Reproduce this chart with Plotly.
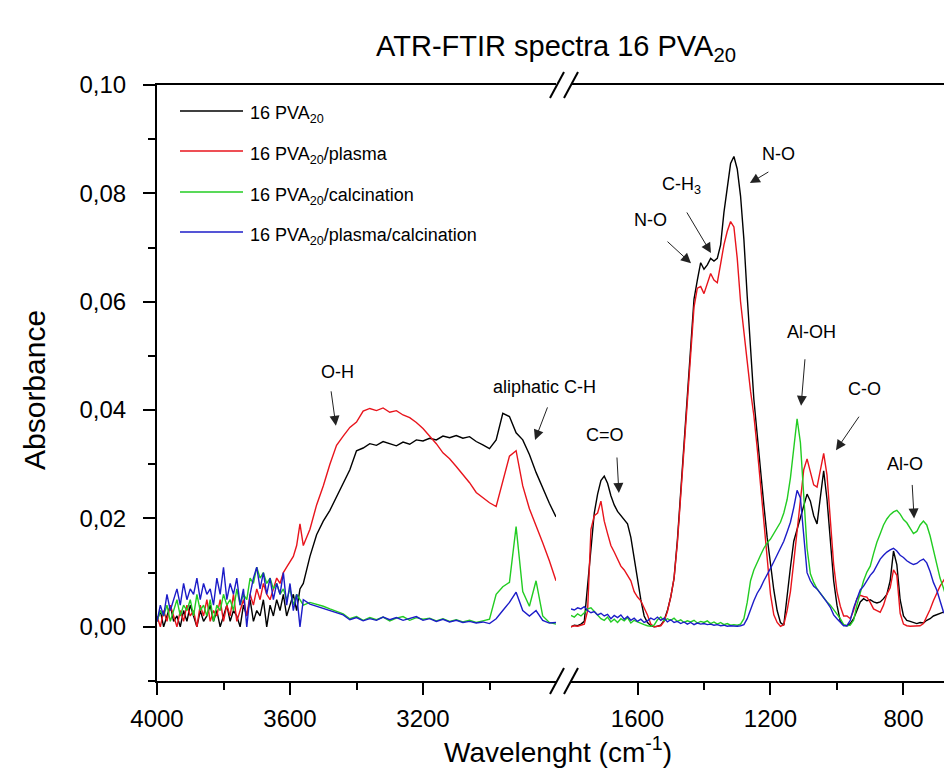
import plotly.graph_objects as go

# ---------------- data ----------------
wn_left = [
    4000, 3990, 3980, 3970, 3960, 3950, 3940, 3930, 3920, 3910,
    3900, 3890, 3880, 3870, 3860, 3850, 3840, 3830, 3820, 3810,
    3800, 3790, 3780, 3770, 3760, 3750, 3740, 3730, 3720, 3710,
    3700, 3690, 3680, 3670, 3660, 3650, 3640, 3630, 3620, 3610,
    3600, 3590, 3580, 3570, 3560,
    3540, 3520, 3500, 3480, 3460, 3440, 3420, 3400, 3380, 3360,
    3340, 3320, 3300, 3280, 3260, 3240, 3220, 3200, 3180, 3160,
    3140, 3120, 3100, 3080, 3060, 3040, 3020, 3000, 2980, 2960,
    2940, 2920, 2900, 2880, 2860, 2840, 2820, 2800]

wn_right = [
    1800, 1790, 1780, 1770, 1760, 1750, 1740, 1730, 1720, 1710,
    1700, 1690, 1680, 1670, 1660, 1650, 1640, 1630, 1620, 1610,
    1600, 1590, 1580, 1570, 1560, 1550, 1540, 1530, 1520, 1510,
    1500, 1490, 1480, 1470, 1460, 1450, 1440, 1430, 1420, 1410,
    1400, 1390, 1380, 1370, 1360, 1350, 1340, 1330, 1320, 1310,
    1300, 1290, 1280, 1270, 1260, 1250, 1240, 1230, 1220, 1210,
    1200, 1190, 1180, 1170, 1160, 1150, 1140, 1130, 1120, 1110,
    1100, 1090, 1080, 1070, 1060, 1050, 1040, 1030, 1020, 1010,
    1000, 990, 980, 970, 960, 950, 940, 930, 920, 910,
    900, 890, 880, 870, 860, 850, 840, 830, 820, 810,
    800, 790, 780, 770, 760, 750, 740, 730, 720, 710,
    700, 690, 680, 670, 660, 650, 640]

black_left = [
    0.001, 0.003, 0.000, 0.002, 0.004, 0.001, 0.002, 0.000, 0.003, 0.001,
    0.004, 0.002, 0.000, 0.003, 0.001, 0.002, 0.004, 0.001, 0.003, 0.000,
    0.002, 0.004, 0.001, 0.003, 0.002, 0.000, 0.004, 0.002, 0.005, 0.001,
    0.003, 0.002, 0.005, 0.000, 0.004, 0.002, 0.005, 0.003, 0.006, 0.002,
    0.004, 0.006, 0.003, 0.007, 0.008,
    0.013, 0.017, 0.0195, 0.0215, 0.024, 0.0265, 0.029, 0.0325, 0.033, 0.0338,
    0.0335, 0.0342, 0.0338, 0.0334, 0.0341, 0.0337, 0.0345, 0.0343, 0.0348, 0.0345,
    0.0352, 0.0349, 0.0353, 0.0348, 0.0351, 0.0342, 0.0336, 0.0329, 0.0345, 0.0394,
    0.0388, 0.0358, 0.0345, 0.0318, 0.0285, 0.0255, 0.0228, 0.0203]

red_left = [
    0.002, 0.000, 0.003, 0.001, 0.004, 0.002, 0.000, 0.003, 0.001, 0.004,
    0.002, 0.003, 0.000, 0.004, 0.002, 0.005, 0.001, 0.003, 0.002, 0.005,
    0.001, 0.004, 0.002, 0.006, 0.001, 0.003, 0.005, 0.002, 0.006, 0.004,
    0.007, 0.005, 0.008, 0.006, 0.005, 0.007, 0.009, 0.008, 0.010, 0.011,
    0.012, 0.013, 0.015, 0.019, 0.015,
    0.018, 0.0225, 0.026, 0.030, 0.0335, 0.0352, 0.0368, 0.0378, 0.0398, 0.0403,
    0.0399, 0.0404, 0.0396, 0.0399, 0.0391, 0.0386, 0.0377, 0.0366, 0.0352, 0.0338,
    0.0321, 0.031, 0.0296, 0.0281, 0.0266, 0.0248, 0.0238, 0.0229, 0.0222, 0.027,
    0.0315, 0.0325, 0.026, 0.0218, 0.0188, 0.0155, 0.0122, 0.0085]

green_left = [
    0.001, 0.003, 0.002, 0.004, 0.001, 0.003, 0.005, 0.002, 0.004, 0.003,
    0.005, 0.002, 0.006, 0.003, 0.004, 0.002, 0.005, 0.001, 0.004, 0.003,
    0.006, 0.004, 0.005, 0.003, 0.007, 0.004, 0.006, 0.005, 0.009, 0.008,
    0.011, 0.009, 0.010, 0.008, 0.009, 0.007, 0.008, 0.006, 0.007, 0.005,
    0.007, 0.004, 0.006, 0.005, 0.004,
    0.0045, 0.0042, 0.0038, 0.0033, 0.0028, 0.0024, 0.0015, 0.0019, 0.0012, 0.0017,
    0.0013, 0.0018, 0.0011, 0.0016, 0.0019, 0.0012, 0.0017, 0.0014, 0.0016, 0.0011,
    0.0015, 0.0010, 0.0013, 0.0009, 0.0012, 0.0008, 0.0011, 0.0014, 0.0060, 0.0074,
    0.0082, 0.0185, 0.0065, 0.0038, 0.0085, 0.0020, 0.0008, 0.0005]

blue_left = [
    0.001, 0.004, 0.002, 0.006, 0.003, 0.005, 0.007, 0.004, 0.008, 0.005,
    0.007, 0.006, 0.009, 0.005, 0.008, 0.006, 0.007, 0.004, 0.009, 0.006,
    0.011, 0.005, 0.008, 0.006, 0.009, 0.004, 0.007, 0.000, 0.006, 0.009,
    0.011, 0.007, 0.010, 0.006, 0.009, 0.005, 0.008, 0.006, 0.010, 0.004,
    0.008, 0.003, 0.006, 0.000, 0.005,
    0.0042, 0.0038, 0.0034, 0.0030, 0.0025, 0.0022, 0.0013, 0.0017, 0.0011, 0.0015,
    0.0012, 0.0018, 0.0013, 0.0017, 0.0012, 0.0015, 0.0019, 0.0012, 0.0015, 0.0010,
    0.0014, 0.0009, 0.0012, 0.0008, 0.0010, 0.0007, 0.0009, 0.0006, 0.0015, 0.0030,
    0.0045, 0.0064, 0.0030, 0.0020, 0.0030, 0.0012, 0.0007, 0.0008]

black_right = [
    0.000, 0.0003, 0.0002, 0.0005, 0.001, 0.008, 0.014, 0.021, 0.0245, 0.027,
    0.0278, 0.0265, 0.0242, 0.0225, 0.0213, 0.0205, 0.0198, 0.019, 0.0165, 0.0125,
    0.0088, 0.005, 0.002, 0.0008, 0.0002, 0.000, 0.0001, 0.0003, 0.0012, 0.003,
    0.0055, 0.009, 0.016, 0.025, 0.034, 0.0435, 0.052, 0.0605, 0.064, 0.0672,
    0.066, 0.0668, 0.068, 0.0675, 0.068, 0.0705, 0.0765, 0.081, 0.0855, 0.0868,
    0.0845, 0.0795, 0.0715, 0.061, 0.0505, 0.042, 0.0355, 0.0285, 0.0225, 0.0165,
    0.0115, 0.0068, 0.003, 0.0008, 0.0003, 0.006, 0.011, 0.0158, 0.018, 0.0198,
    0.0225, 0.0245, 0.0232, 0.0205, 0.019, 0.0245, 0.0288, 0.0235, 0.016, 0.0085,
    0.004, 0.001, 0.0003, 0.0002, 0.0006, 0.0015, 0.003, 0.0046, 0.0052, 0.0048,
    0.005, 0.0046, 0.0044, 0.0046, 0.0052, 0.006, 0.0085, 0.014, 0.0115, 0.005,
    0.002, 0.0012, 0.001, 0.0008, 0.0006, 0.0008, 0.0007, 0.0012, 0.0015, 0.002,
    0.0022, 0.0025, 0.0027, 0.0026, 0.0022, 0.0018, 0.0018]

red_right = [
    0.000, 0.0002, 0.0001, 0.0003, 0.0005, 0.003, 0.018, 0.0205, 0.021, 0.0232,
    0.0195, 0.0172, 0.015, 0.0138, 0.0126, 0.0112, 0.0105, 0.0095, 0.0085, 0.0065,
    0.0055, 0.0048, 0.0035, 0.0022, 0.0005, 0.0000, 0.0001, 0.0002, 0.001, 0.0028,
    0.0055, 0.009, 0.0155, 0.024, 0.033, 0.042, 0.051, 0.059, 0.0625, 0.0628,
    0.0615, 0.0635, 0.0652, 0.064, 0.0635, 0.067, 0.0705, 0.073, 0.0748, 0.0738,
    0.068, 0.060, 0.055, 0.049, 0.0435, 0.039, 0.033, 0.026, 0.0185, 0.012,
    0.006, 0.0022, 0.0008, 0.0001, 0.0004, 0.003, 0.0065, 0.012, 0.018, 0.024,
    0.029, 0.031, 0.0285, 0.0262, 0.0258, 0.029, 0.032, 0.028, 0.019, 0.0115,
    0.0065, 0.0038, 0.002, 0.002, 0.0015, 0.003, 0.0052, 0.0058, 0.0056, 0.0055,
    0.0045, 0.0033, 0.003, 0.0027, 0.004, 0.006, 0.0072, 0.0105, 0.0095, 0.0025,
    0.0005, 0.0002, 0.0001, 0.0001, 0.0002, 0.0002, 0.0006, 0.0018, 0.0032, 0.0048,
    0.0062, 0.0075, 0.0085, 0.0095, 0.0104, 0.0105, 0.0102]

green_right = [
    0.0021, 0.0018, 0.0024, 0.002, 0.0026, 0.0033, 0.0035, 0.0028, 0.0022, 0.0015,
    0.0012, 0.0018, 0.0009, 0.0014, 0.0008, 0.0015, 0.0011, 0.0017, 0.0007, 0.0012,
    0.0009, 0.0006, 0.0004, 0.0002, 0.0001, 0.0003, 0.0013, 0.0018, 0.0011, 0.0015,
    0.0012, 0.0016, 0.0010, 0.0013, 0.0008, 0.0011, 0.0009, 0.0012, 0.0007, 0.0010,
    0.0008, 0.0011, 0.0006, 0.0009, 0.0005, 0.0008, 0.0004, 0.0006, 0.0003, 0.0004,
    0.0003, 0.0005, 0.0015, 0.0045, 0.0085, 0.0105, 0.012, 0.0132, 0.0145, 0.0155,
    0.0162, 0.0172, 0.0183, 0.0193, 0.021, 0.0235, 0.0275, 0.033, 0.0384, 0.034,
    0.024, 0.0145, 0.0098, 0.0082, 0.007, 0.0062, 0.0052, 0.0046, 0.004, 0.0032,
    0.0025, 0.0015, 0.0004, 0.0002, 0.0003, 0.0012, 0.004, 0.0062, 0.0085, 0.0101,
    0.0112, 0.0135, 0.0156, 0.0172, 0.0188, 0.0199, 0.0207, 0.0212, 0.0215, 0.0208,
    0.0198, 0.0192, 0.0182, 0.0172, 0.0176, 0.0188, 0.0195, 0.0188, 0.0168, 0.0142,
    0.0115, 0.009, 0.0072, 0.0052, 0.0038, 0.0028, 0.0022]

blue_right = [
    0.0033, 0.0031, 0.0035, 0.0033, 0.0037, 0.0030, 0.0026, 0.0028, 0.0022, 0.0025,
    0.0020, 0.0023, 0.0015, 0.0021, 0.0017, 0.0022, 0.0014, 0.0019, 0.0012, 0.0016,
    0.0010, 0.0014, 0.0008, 0.0011, 0.0016, 0.0013, 0.0018, 0.0012, 0.0016, 0.0009,
    0.0013, 0.0008, 0.0010, 0.0006, 0.0009, 0.0005, 0.0008, 0.0004, 0.0007, 0.0005,
    0.0006, 0.0004, 0.0005, 0.0003, 0.0004, 0.0002, 0.0003, 0.0001, 0.0002, 0.0001,
    0.0001, 0.0002, 0.0004, 0.0015, 0.0033, 0.0048, 0.0062, 0.0072, 0.0085, 0.0098,
    0.0108, 0.012, 0.0132, 0.0144, 0.0158, 0.0175, 0.0193, 0.022, 0.0252, 0.0238,
    0.0165, 0.0100, 0.0085, 0.0075, 0.007, 0.0062, 0.0055, 0.0045, 0.0036, 0.0022,
    0.0015, 0.0008, 0.0002, 0.0002, 0.0012, 0.0035, 0.0052, 0.0068, 0.0075, 0.0085,
    0.0095, 0.0102, 0.0115, 0.0125, 0.0132, 0.0138, 0.0142, 0.0145, 0.014, 0.0132,
    0.0128, 0.0122, 0.0118, 0.0115, 0.0117, 0.0122, 0.0125, 0.0118, 0.0102, 0.0082,
    0.0068, 0.0048, 0.0028, 0.0018, 0.0012, 0.0009, 0.0008]

series_names = ["16 PVA<sub>20</sub>", "16 PVA<sub>20</sub>/plasma",
                "16 PVA<sub>20</sub>/calcination", "16 PVA<sub>20</sub>/plasma/calcination"]
series_colors = ["#000000", "#e8141c", "#22cc22", "#1c1cc8"]

y_tickvals = [0.00, 0.02, 0.04, 0.06, 0.08, 0.10]
y_ticktext = ["0,00", "0,02", "0,04", "0,06", "0,08", "0,10"]
y_minor = [-0.01, 0.01, 0.03, 0.05, 0.07, 0.09]
xl_tickvals = [4000, 3600, 3200]
xl_minor = [3800, 3400, 3000]
xr_tickvals = [1600, 1200, 800]
xr_minor = [1400, 1000]

# peak annotations: (label, axis, tip_wn, tip_abs, tail_dx, tail_dy, text_wn, text_abs)
peak_labels = [
    ("O-H", "x", 3462, 0.0371, -5, -36, 3456, 0.0470),
    ("aliphatic C-H", "x", 2863, 0.0345, 13, -34, 2836, 0.0443),
    ("C=O", "x2", 1656, 0.0247, -2, -37, 1698, 0.0354),
    ("N-O", "x2", 1439, 0.0671, -25, -23, 1562, 0.0751),
    ("C-H<sub>3</sub>", "x2", 1379, 0.0690, -25, -42, 1469, 0.0814),
    ("N-O", "x2", 1262, 0.0819, 20, -12, 1177, 0.0873),
    ("Al-OH", "x2", 1108, 0.0408, 4, -48, 1078, 0.0544),
    ("C-O", "x2", 1003, 0.0326, 24, -35, 916, 0.0439),
    ("Al-O", "x2", 768, 0.0200, -2, -35, 795, 0.0301),
]

# ---------------- figure ----------------
W, H = 952, 770
ML, MR, MT, MB = 149, 0, 77, 97
PW, PH = W - ML - MR, H - MT - MB

def px_to_paper(px, py):
    return (px - ML) / PW, (H - MB - py) / PH

FONT = "Liberation Sans, Arial, sans-serif"
fig = go.Figure()

lefts = [black_left, red_left, green_left, blue_left]
rights = [black_right, red_right, green_right, blue_right]
for name, col, yl, yr in zip(series_names, series_colors, lefts, rights):
    fig.add_trace(go.Scatter(x=wn_left, y=yl, mode="lines", name=name,
                             line=dict(color=col, width=1.4),
                             xaxis="x", yaxis="y", showlegend=False))
    fig.add_trace(go.Scatter(x=wn_right, y=yr, mode="lines", name=name,
                             line=dict(color=col, width=1.4),
                             xaxis="x2", yaxis="y2", showlegend=False))

left_end = (548 - ML) / PW
right_start = (563 - ML) / PW

axis_common = dict(showgrid=False, zeroline=False, showline=True, linecolor="black",
                   linewidth=2, ticks="outside", ticklen=12, tickwidth=2, tickcolor="black",
                   tickfont=dict(family=FONT, size=24, color="black"))

fig.update_layout(
    width=W, height=H,
    margin=dict(l=ML, r=MR, t=MT, b=MB, pad=0),
    paper_bgcolor="white", plot_bgcolor="white",
    showlegend=False,
    title=dict(text="ATR-FTIR spectra 16 PVA<sub>20</sub>", x=548 / W, xref="container",
               xanchor="center", y=1 - 38 / H, yref="container", yanchor="middle",
               font=dict(family=FONT, size=29, color="black")),
    xaxis=dict(domain=[0, left_end], range=[4000, 2800], anchor="y", mirror=True,
               tickvals=xl_tickvals, ticktext=[str(v) for v in xl_tickvals],
               ticklabelstandoff=3,
               minor=dict(tickvals=xl_minor, ticklen=7, tickwidth=2, tickcolor="black",
                          ticks="outside", showgrid=False),
               **axis_common),
    xaxis2=dict(domain=[right_start, 1], range=[1800, 630], anchor="y2", mirror=True,
                tickvals=xr_tickvals, ticktext=[str(v) for v in xr_tickvals],
                ticklabelstandoff=3,
                minor=dict(tickvals=xr_minor, ticklen=7, tickwidth=2, tickcolor="black",
                           ticks="outside", showgrid=False),
                **axis_common),
    yaxis=dict(domain=[0, 1], range=[-0.01, 0.10], anchor="x",
               tickvals=y_tickvals, ticktext=y_ticktext,
               ticklabelstandoff=12,
               minor=dict(tickvals=y_minor, ticklen=7, tickwidth=2, tickcolor="black",
                          ticks="outside", showgrid=False),
               **axis_common),
    yaxis2=dict(domain=[0, 1], range=[-0.01, 0.10], anchor="x2", matches="y",
                showline=False, showticklabels=False, ticks="", showgrid=False,
                zeroline=False),
)

annotations = []
shapes = []

# axis titles
annotations.append(dict(text="Absorbance", xref="paper", yref="paper",
                        x=px_to_paper(26, 0)[0], y=px_to_paper(0, 382)[1],
                        textangle=-90, showarrow=False, xanchor="center", yanchor="middle",
                        font=dict(family=FONT, size=30, color="black")))
annotations.append(dict(text="Wavelenght (cm<sup>-1</sup>)", xref="paper", yref="paper",
                        x=px_to_paper(550, 0)[0], y=px_to_paper(0, 742)[1],
                        showarrow=False, xanchor="center", yanchor="middle",
                        font=dict(family=FONT, size=28, color="black")))

# peak labels and arrows
for label, ax_name, twn, tab, dx, dy, lwn, lab in peak_labels:
    yref = "y" if ax_name == "x" else "y2"
    annotations.append(dict(text=label, x=lwn, y=lab, xref=ax_name, yref=yref,
                            showarrow=False, xanchor="center", yanchor="middle",
                            font=dict(family=FONT, size=18, color="black")))
    annotations.append(dict(text="", x=twn, y=tab, xref=ax_name, yref=yref,
                            showarrow=True, ax=dx, ay=dy, axref="pixel", ayref="pixel",
                            arrowhead=2, arrowsize=2, arrowwidth=1, arrowcolor="#222222"))

# legend (manual, Origin-style)
legend_rows_py = [103, 143, 184, 224]
for name, col, py in zip(series_names, series_colors, legend_rows_py):
    x0, yl = px_to_paper(172, py)
    x1, _ = px_to_paper(235, py)
    shapes.append(dict(type="line", xref="paper", yref="paper", x0=x0, x1=x1, y0=yl, y1=yl,
                       line=dict(color=col, width=1.5)))
    tx, ty = px_to_paper(240, py + 4)
    annotations.append(dict(text=name, xref="paper", yref="paper", x=tx, y=ty,
                            showarrow=False, xanchor="left", yanchor="middle",
                            font=dict(family=FONT, size=18, color="black")))

# axis break marks
for base_py in (77, 673):
    for sx in (542, 556):
        x0, y0 = px_to_paper(sx, base_py + 13)
        x1, y1 = px_to_paper(sx + 14, base_py - 13)
        shapes.append(dict(type="line", xref="paper", yref="paper", x0=x0, y0=y0, x1=x1, y1=y1,
                           line=dict(color="black", width=2)))

fig.update_layout(annotations=annotations, shapes=shapes)
fig.write_html("out.html")
